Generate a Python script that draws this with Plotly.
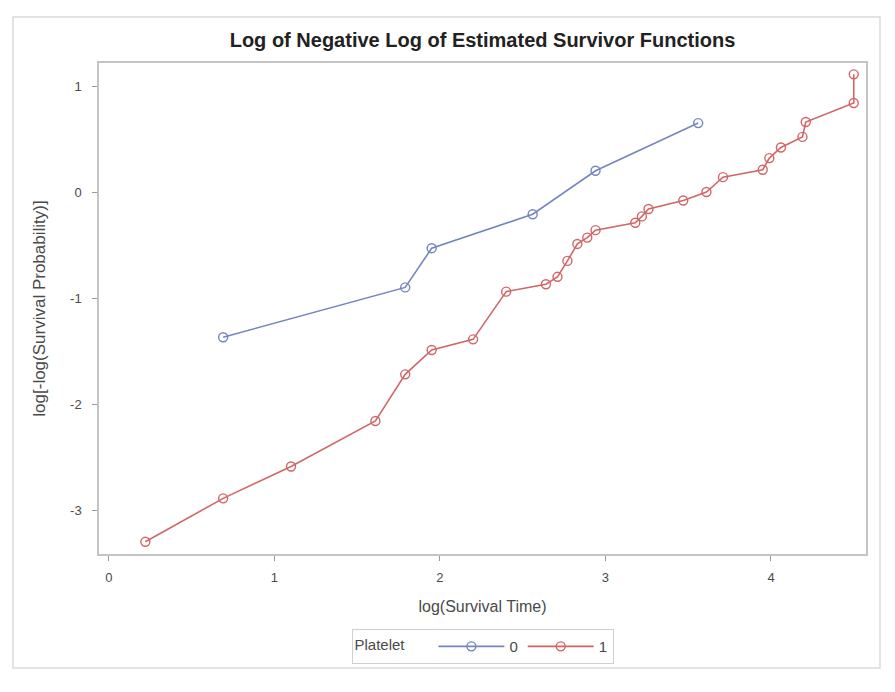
import plotly.graph_objects as go

# log(survival time) and log(-log(S(t))) for each platelet group
time_log_0 = [0.69, 1.79, 1.95, 2.56, 2.94, 3.56]
surv_loglog_0 = [-1.37, -0.90, -0.53, -0.21, 0.20, 0.65]

time_log_1 = [0.22, 0.69, 1.10, 1.61, 1.79, 1.95, 2.20, 2.40, 2.64, 2.71,
              2.77, 2.83, 2.89, 2.94, 3.18, 3.22, 3.26, 3.47, 3.61, 3.71,
              3.95, 3.99, 4.06, 4.19, 4.21, 4.50, 4.50]
surv_loglog_1 = [-3.30, -2.89, -2.59, -2.16, -1.72, -1.49, -1.39, -0.94, -0.87, -0.80,
                 -0.65, -0.49, -0.43, -0.36, -0.29, -0.23, -0.16, -0.08, 0.00, 0.14,
                 0.21, 0.32, 0.42, 0.52, 0.66, 0.84, 1.11]

x_ticks = [0, 1, 2, 3, 4]
y_ticks = [-3, -2, -1, 0, 1]

blue = "#7585c0"
red = "#d26666"
font_family = "Liberation Sans, Arial, sans-serif"
text_grey = "#4a4a4a"

fig = go.Figure()
fig.add_trace(go.Scatter(
    x=time_log_0, y=surv_loglog_0, name="0", mode="lines+markers",
    line=dict(color=blue, width=1.6),
    marker=dict(symbol="circle-open", size=9, color=blue, line=dict(width=1.4)),
))
fig.add_trace(go.Scatter(
    x=time_log_1, y=surv_loglog_1, name="1", mode="lines+markers",
    line=dict(color=red, width=1.6),
    marker=dict(symbol="circle-open", size=9, color=red, line=dict(width=1.4)),
))

axis_common = dict(
    showline=True, linecolor="#c4c4c4", linewidth=1.5, mirror=True,
    showgrid=False, zeroline=False,
    ticks="outside", ticklen=5, tickcolor="#9a9a9a", tickwidth=1,
    tickfont=dict(family=font_family, size=13, color=text_grey),
)

fig.update_layout(
    width=895, height=692,
    margin=dict(l=99, r=29, t=63, b=138),
    paper_bgcolor="white", plot_bgcolor="white",
    title=dict(
        text="<b>Log of Negative Log of Estimated Survivor Functions</b>",
        x=0.5, xref="paper", xanchor="center",
        y=1 - 40 / 692, yanchor="middle",
        font=dict(family=font_family, size=20, color="#222222"),
    ),
    xaxis=dict(
        **axis_common, range=[-0.06, 4.574], tickvals=x_ticks,
        ticktext=[str(v) for v in x_ticks], ticklabelstandoff=6,
        title=dict(text="log(Survival Time)", standoff=16,
                   font=dict(family=font_family, size=16, color=text_grey)),
    ),
    yaxis=dict(
        **axis_common, range=[-3.415, 1.217], tickvals=y_ticks,
        ticktext=[str(v) for v in y_ticks], ticklabelstandoff=8,
        title=dict(text="log[-log(Survival Probability)]", standoff=20,
                   font=dict(family=font_family, size=17, color=text_grey)),
    ),
    legend=dict(
        orientation="h", x=0.5, xanchor="center", y=-0.153, yanchor="top",
        bordercolor="#d0d0d0", borderwidth=1, bgcolor="white",
        title=dict(text="Platelet     ", font=dict(family=font_family, size=15, color=text_grey)),
        font=dict(family=font_family, size=15, color=text_grey),
        itemwidth=66,
    ),
    showlegend=True,
)

# outer frame around the whole graph
fig.add_shape(
    type="rect", xref="paper", yref="paper",
    x0=(13 - 99) / 767, x1=(880 - 99) / 767,
    y0=(554 - 668) / 491, y1=(554 - 17) / 491,
    line=dict(color="#dadada", width=1.5), fillcolor="rgba(0,0,0,0)", layer="below",
)

fig.write_html("out.html")
